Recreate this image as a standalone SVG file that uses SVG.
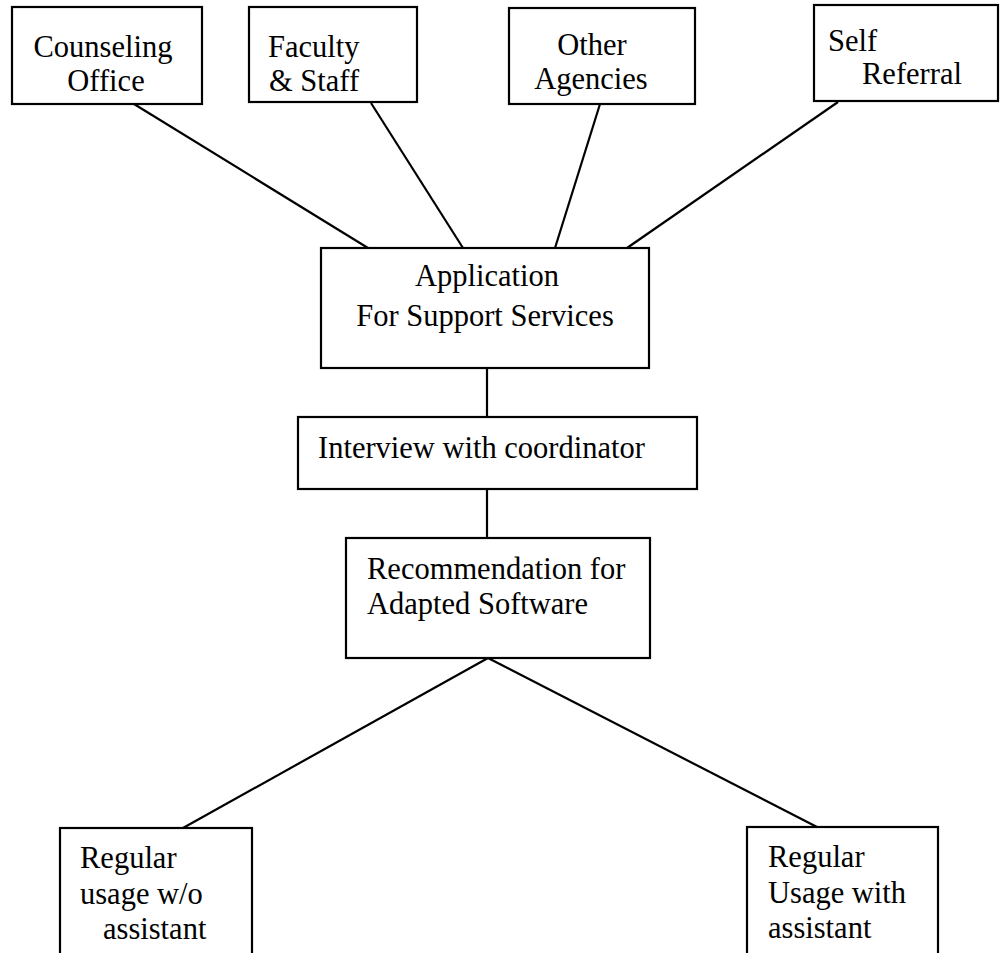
<svg xmlns="http://www.w3.org/2000/svg" width="1000" height="953" viewBox="0 0 1000 953">
<style>
.box{fill:#fff;stroke:#000;stroke-width:2.2}
.c{stroke:#000;stroke-width:2.2;fill:none}
text{font-family:"Liberation Serif","Times New Roman",serif;font-size:30.5px;fill:#000}
.m{text-anchor:middle}
</style>
<rect width="1000" height="953" fill="#fff"/>
<g id="connectors">
<line class="c" x1="134" y1="104" x2="368" y2="248"/>
<line class="c" x1="371" y1="103" x2="463" y2="248"/>
<line class="c" x1="600" y1="104" x2="555" y2="248"/>
<line class="c" x1="838" y1="102" x2="627" y2="248"/>
<line class="c" x1="487" y1="368" x2="487" y2="417"/>
<line class="c" x1="487" y1="489" x2="487" y2="538"/>
<line class="c" x1="488" y1="658" x2="183" y2="828"/>
<line class="c" x1="488" y1="658" x2="817" y2="827"/>
</g>
<g id="counseling">
<rect class="box" x="12" y="7" width="190" height="97"/>
<text class="m" x="103" y="57">Counseling</text>
<text class="m" x="106" y="91">Office</text>
</g>
<g id="faculty">
<rect class="box" x="249" y="7" width="168" height="95"/>
<text x="268" y="57">Faculty</text>
<text x="269" y="91">&amp; Staff</text>
</g>
<g id="other">
<rect class="box" x="509" y="8" width="186" height="96"/>
<text class="m" x="592" y="55">Other</text>
<text class="m" x="591" y="89">Agencies</text>
</g>
<g id="self">
<rect class="box" x="814" y="5" width="184" height="96"/>
<text x="828" y="51">Self</text>
<text x="862" y="84">Referral</text>
</g>
<g id="application">
<rect class="box" x="321" y="248" width="328" height="120"/>
<text class="m" x="487" y="286">Application</text>
<text class="m" x="485" y="326">For Support Services</text>
</g>
<g id="interview">
<rect class="box" x="298" y="417" width="399" height="72"/>
<text x="318" y="458">Interview with coordinator</text>
</g>
<g id="recommendation">
<rect class="box" x="346" y="538" width="304" height="120"/>
<text x="367" y="579">Recommendation for</text>
<text x="367" y="614">Adapted Software</text>
</g>
<g id="without-assistant">
<rect class="box" x="60" y="828" width="192" height="140"/>
<text x="80" y="868">Regular</text>
<text x="80" y="904">usage w/o</text>
<text x="103" y="939">assistant</text>
</g>
<g id="with-assistant">
<rect class="box" x="747" y="827" width="191" height="140"/>
<text x="768" y="867">Regular</text>
<text x="768" y="903">Usage with</text>
<text x="768" y="938">assistant</text>
</g>
</svg>
